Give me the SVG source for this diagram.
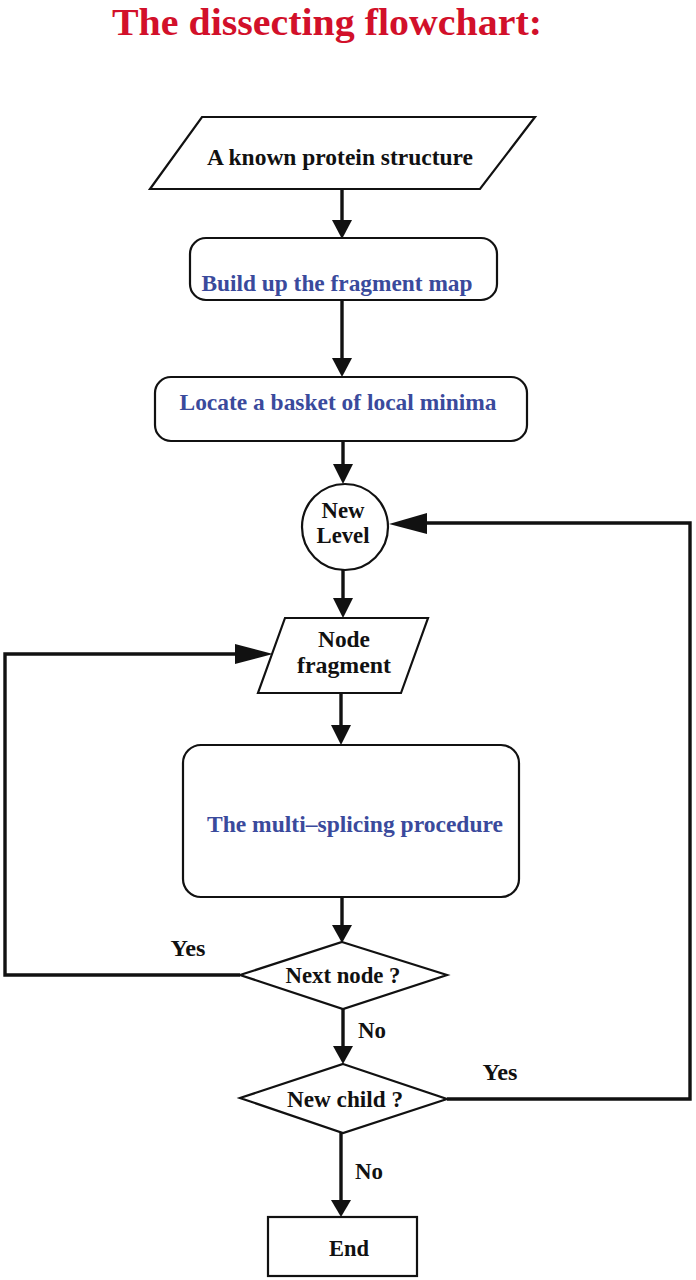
<svg xmlns="http://www.w3.org/2000/svg" width="696" height="1280" viewBox="0 0 696 1280">
<style>
.shape{fill:#fff;stroke:#111;stroke-width:2.2}
.t{font-family:"Liberation Serif","Times New Roman",serif;font-weight:bold;font-size:24px;fill:#111;text-anchor:middle}
.b{fill:#3a4a9c}
.line{fill:none;stroke:#111;stroke-width:3.4}
.head{fill:#111}
</style>
<rect width="696" height="1280" fill="#fff"/>
<text x="327" y="35" class="t" style="font-size:38px;fill:#d2102a" textLength="430" lengthAdjust="spacingAndGlyphs">The dissecting flowchart:</text>

<g id="connectors">
<line class="line" x1="342" y1="189" x2="342" y2="222"/>
<polygon class="head" points="332,220 352,220 342,239"/>
<line class="line" x1="342" y1="300" x2="342" y2="360"/>
<polygon class="head" points="332,358 352,358 342,377"/>
<line class="line" x1="343" y1="441" x2="343" y2="466"/>
<polygon class="head" points="333,464 353,464 343,484"/>
<line class="line" x1="343" y1="570" x2="343" y2="600"/>
<polygon class="head" points="333,598 353,598 343,618"/>
<line class="line" x1="341" y1="693" x2="341" y2="727"/>
<polygon class="head" points="331,725 351,725 341,745"/>
<line class="line" x1="342" y1="897" x2="342" y2="927"/>
<polygon class="head" points="332,925 352,925 342,943"/>
<line class="line" x1="343" y1="1009" x2="343" y2="1048"/>
<polygon class="head" points="333,1046 353,1046 343,1064"/>
<line class="line" x1="341" y1="1133" x2="341" y2="1202"/>
<polygon class="head" points="331,1200 351,1200 341,1217"/>
<polyline class="line" points="240,975 5,975 5,654 240,654"/>
<polygon class="head" points="235,644 235,664 273,654"/>
<polyline class="line" points="447,1099 690,1099 690,523 425,523"/>
<polygon class="head" points="427,513 427,534 389,524"/>
<text x="188" y="956" class="t" textLength="35" lengthAdjust="spacingAndGlyphs">Yes</text>
<text x="372" y="1038" class="t" textLength="28" lengthAdjust="spacingAndGlyphs">No</text>
<text x="500" y="1080" class="t" textLength="35" lengthAdjust="spacingAndGlyphs">Yes</text>
<text x="369" y="1179" class="t" textLength="28" lengthAdjust="spacingAndGlyphs">No</text>
</g>

<g id="start">
<polygon class="shape" points="202,117 535,117 480,189 150,189"/>
<text x="340" y="165" class="t" textLength="266" lengthAdjust="spacingAndGlyphs">A known protein structure</text>
</g>
<g id="fragment-map">
<rect class="shape" x="190" y="238" width="307" height="62" rx="16"/>
<text x="337" y="291" class="t b" textLength="271" lengthAdjust="spacingAndGlyphs">Build up the fragment map</text>
</g>
<g id="basket">
<rect class="shape" x="155" y="377" width="372" height="64" rx="16"/>
<text x="338" y="410" class="t b" textLength="317" lengthAdjust="spacingAndGlyphs">Locate a basket of local minima</text>
</g>
<g id="new-level">
<circle class="shape" cx="345" cy="527" r="43"/>
<text x="343" y="518" class="t" textLength="43" lengthAdjust="spacingAndGlyphs">New</text>
<text x="343" y="543" class="t" textLength="53" lengthAdjust="spacingAndGlyphs">Level</text>
</g>
<g id="node-fragment">
<polygon class="shape" points="285,618 428,618 401,693 258,693"/>
<text x="344" y="647" class="t" textLength="52" lengthAdjust="spacingAndGlyphs">Node</text>
<text x="344" y="673" class="t" textLength="94" lengthAdjust="spacingAndGlyphs">fragment</text>
</g>
<g id="multi-splicing">
<rect class="shape" x="183" y="745" width="336" height="152" rx="18"/>
<text x="355" y="832" class="t b" textLength="296" lengthAdjust="spacingAndGlyphs">The multi–splicing procedure</text>
</g>
<g id="next-node">
<polygon class="shape" points="342,942 447,975 343,1009 240,975"/>
<text x="343" y="983" class="t" textLength="115" lengthAdjust="spacingAndGlyphs">Next node ?</text>
</g>
<g id="new-child">
<polygon class="shape" points="343,1064 447,1099 343,1133 240,1098"/>
<text x="345" y="1107" class="t" textLength="116" lengthAdjust="spacingAndGlyphs">New child ?</text>
</g>
<g id="end">
<rect class="shape" x="268" y="1217" width="149" height="59"/>
<text x="349" y="1256" class="t" textLength="40" lengthAdjust="spacingAndGlyphs">End</text>
</g>
</svg>
